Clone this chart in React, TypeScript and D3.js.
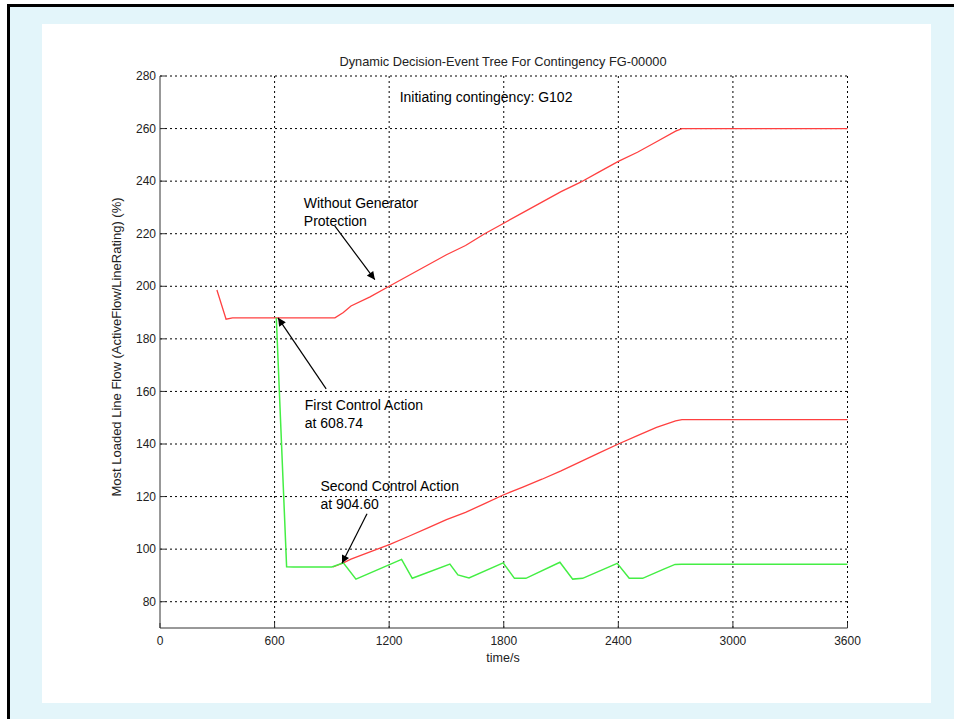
import React from "react";
import * as d3 from "d3";

// time (s), loading (%)
const redUpper: [number, number][] = [
  [298, 198.6], [346, 187.5], [380, 188], [916, 188], [960, 190], [1000, 192.5],
  [1100, 196], [1200, 200], [1300, 204], [1400, 208], [1500, 212], [1600, 215.5],
  [1700, 220], [1800, 224], [1900, 228], [2000, 232], [2100, 236], [2200, 239.5],
  [2300, 243.5], [2400, 247.5], [2500, 251], [2600, 255], [2700, 259], [2733, 260],
  [3600, 260],
];

const redLower: [number, number][] = [
  [906, 93.2], [960, 94.8], [1000, 96.2], [1100, 99], [1204, 101.8], [1300, 104.8],
  [1400, 108], [1500, 111.2], [1600, 114], [1700, 117.3], [1797, 120.6], [1900, 123.6],
  [2000, 126.6], [2100, 129.8], [2200, 133.2], [2300, 136.6], [2400, 140], [2500, 143.2],
  [2600, 146.3], [2700, 148.8], [2733, 149.3], [3600, 149.3],
];

const green: [number, number][] = [
  [609, 188], [663, 93.3], [700, 93.2], [900, 93.2], [960, 94.8], [1026, 88.6],
  [1265, 96.1], [1321, 88.9], [1518, 94.3], [1560, 90.2], [1618, 89], [1797, 94.8],
  [1856, 88.9], [1916, 88.9], [2094, 95], [2161, 88.6], [2213, 88.9], [2394, 94.6],
  [2457, 88.9], [2527, 88.9], [2635, 92.3], [2697, 94.2], [2732, 94.3], [3600, 94.3],
];

const xTicks = [0, 600, 1200, 1800, 2400, 3000, 3600];
const yTicks = [80, 100, 120, 140, 160, 180, 200, 220, 240, 260, 280];

const titleText = "Dynamic Decision-Event Tree For Contingency FG-00000";
const xLabel = "time/s";
const yLabel = "Most Loaded Line Flow (ActiveFlow/LineRating) (%)";

// annotations: text lines at (t, v), arrow from (t, v) to (t, v)
const notes = [
  { lines: ["Initiating contingency: G102"], at: [1255, 270.2], arrow: null },
  {
    lines: ["Without Generator", "Protection"],
    at: [753, 229.8],
    arrow: [[915, 223], [1125, 202.5]],
  },
  {
    lines: ["First Control Action", "at 608.74"],
    at: [758, 153],
    arrow: [[870, 161], [618, 188]],
  },
  {
    lines: ["Second Control Action", "at 904.60"],
    at: [840, 122.2],
    arrow: [[1084, 113.5], [953, 94.6]],
  },
];

export default function App() {
  const W = 954;
  const H = 719;
  const x = d3.scaleLinear().domain([0, 3600]).range([160, 847.5]);
  const y = d3.scaleLinear().domain([70, 280]).range([628, 76]);
  const line = d3
    .line<[number, number]>()
    .x((d) => x(d[0]))
    .y((d) => y(d[1]));
  const font = "'Liberation Sans', Arial, sans-serif";

  return (
    <svg
      width={W}
      height={H}
      style={{ position: "absolute", left: 0, top: 0 }}
      fontFamily={font}
    >
      <defs>
        <marker
          id="head"
          viewBox="0 0 10 10"
          refX={10}
          refY={5}
          markerWidth={10}
          markerHeight={8}
          markerUnits="userSpaceOnUse"
          orient="auto"
        >
          <path d="M0,0 L10,5 L0,10 Z" fill="#000" />
        </marker>
      </defs>
      <rect x={0} y={0} width={W} height={H} fill="#fff" />
      <rect x={7} y={4} width={W - 7} height={H - 4} fill="#e3f5fa" />
      <rect x={7} y={4} width={W - 7} height={3} fill="#000" />
      <rect x={7} y={4} width={3} height={H - 4} fill="#000" />
      <rect x={42} y={24} width={889} height={679} fill="#fff" />

      {/* grid */}
      {xTicks.slice(1).map((t) => (
        <line
          key={`gx${t}`}
          x1={x(t)}
          x2={x(t)}
          y1={y(70)}
          y2={y(280)}
          stroke="#000"
          strokeDasharray="2,3"
        />
      ))}
      {yTicks.map((t) => (
        <line
          key={`gy${t}`}
          x1={x(0)}
          x2={x(3600)}
          y1={y(t)}
          y2={y(t)}
          stroke="#000"
          strokeDasharray="2,3"
        />
      ))}

      {/* axes */}
      <line x1={x(0)} x2={x(0)} y1={y(70)} y2={y(280)} stroke="#333" />
      <line x1={x(0)} x2={x(3600)} y1={y(70)} y2={y(70)} stroke="#333" />
      {yTicks.map((t) => (
        <g key={`ty${t}`}>
          <line x1={x(0)} x2={x(0) + 5} y1={y(t)} y2={y(t)} stroke="#333" />
          <text
            x={x(0) - 4}
            y={y(t)}
            dy="0.35em"
            textAnchor="end"
            fontSize={12}
            fill="#222"
          >
            {t}
          </text>
        </g>
      ))}
      {xTicks.map((t) => (
        <g key={`tx${t}`}>
          <line x1={x(t)} x2={x(t)} y1={y(70)} y2={y(70) - 5} stroke="#333" />
          <text
            x={x(t)}
            y={y(70) + 17}
            textAnchor="middle"
            fontSize={12}
            fill="#222"
          >
            {t}
          </text>
        </g>
      ))}

      <text x={503} y={66} textAnchor="middle" fontSize={12.8} fill="#222">
        {titleText}
      </text>
      <text x={503} y={662} textAnchor="middle" fontSize={12.5} fill="#222">
        {xLabel}
      </text>
      <text
        transform={`translate(121, 347) rotate(-90)`}
        textAnchor="middle"
        fontSize={13}
        fill="#222"
      >
        {yLabel}
      </text>

      {/* series */}
      <path d={line(redUpper) ?? ""} fill="none" stroke="#ff4040" strokeWidth={1.3} />
      <path d={line(redLower) ?? ""} fill="none" stroke="#ff4040" strokeWidth={1.3} />
      <path d={line(green) ?? ""} fill="none" stroke="#44ee44" strokeWidth={1.5} />

      {/* annotations */}
      {notes.map((n, i) => (
        <g key={`n${i}`}>
          {n.lines.map((l, j) => (
            <text
              key={j}
              x={x(n.at[0])}
              y={y(n.at[1]) + j * 18}
              fontSize={14}
              fill="#000"
            >
              {l}
            </text>
          ))}
          {n.arrow && (
            <line
              x1={x(n.arrow[0][0])}
              y1={y(n.arrow[0][1])}
              x2={x(n.arrow[1][0])}
              y2={y(n.arrow[1][1])}
              stroke="#000"
              strokeWidth={1.2}
              markerEnd="url(#head)"
            />
          )}
        </g>
      ))}
    </svg>
  );
}
